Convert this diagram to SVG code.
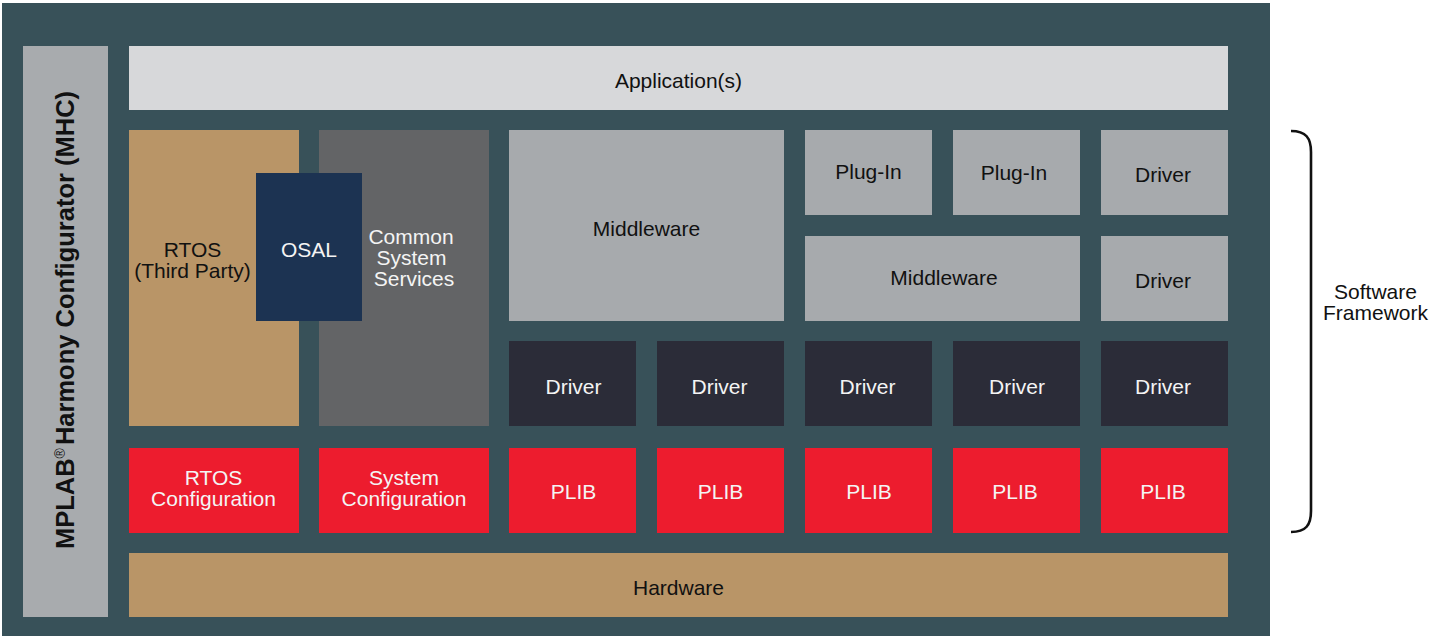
<svg xmlns="http://www.w3.org/2000/svg" width="1429" height="636" viewBox="0 0 1429 636">
<style>
text{font-family:"Liberation Sans",Arial,sans-serif;font-size:21px;text-anchor:middle}
.dk{fill:#111}
.wt{fill:#f4f4f4}
.bg{fill:#385159}
.mhc{fill:#a8abae}
.app{fill:#d7d8da}
.tan{fill:#b99567}
.osal{fill:#1c3352}
.css{fill:#636466}
.gray{fill:#a7aaad}
.drv{fill:#2b2c38}
.red{fill:#ed1c2e}
</style>
<rect width="1429" height="636" fill="#ffffff"/>
<rect class="bg" x="2" y="3" width="1268" height="633"/>
<g id="mhc">
<rect class="mhc" x="23" y="46" width="85" height="571"/>
<text class="dk" transform="translate(74,320) rotate(-90)" style="font-weight:bold;font-size:25.5px">MPLAB<tspan style="font-size:14px;font-weight:normal" dy="-9">®</tspan><tspan dy="9" dx="3">Harmony Configurator (MHC)</tspan></text>
</g>
<g id="application">
<rect class="app" x="129" y="46" width="1099" height="64"/>
<text class="dk" x="678.5" y="88">Application(s)</text>
</g>
<g id="rtos">
<rect class="tan" x="129" y="130" width="170" height="296"/>
<text class="dk" x="192.5" y="257">RTOS</text>
<text class="dk" x="192.5" y="278">(Third Party)</text>
</g>
<g id="css">
<rect class="css" x="319" y="130" width="170" height="296"/>
<text class="wt" x="411" y="244">Common</text>
<text class="wt" x="411.5" y="265">System</text>
<text class="wt" x="414" y="286">Services</text>
</g>
<g id="osal">
<rect class="osal" x="256" y="173" width="106" height="148"/>
<text class="wt" x="309" y="257">OSAL</text>
</g>
<g id="middleware1">
<rect class="gray" x="509" y="130" width="275" height="191"/>
<text class="dk" x="646.5" y="236">Middleware</text>
</g>
<g id="plugin1">
<rect class="gray" x="805" y="130" width="127" height="85"/>
<text class="dk" x="868.5" y="179">Plug-In</text>
</g>
<g id="plugin2">
<rect class="gray" x="953" y="130" width="127" height="85"/>
<text class="dk" x="1014" y="180">Plug-In</text>
</g>
<g id="driver-top1">
<rect class="gray" x="1101" y="130" width="127" height="85"/>
<text class="dk" x="1163" y="182">Driver</text>
</g>
<g id="middleware2">
<rect class="gray" x="805" y="236" width="275" height="85"/>
<text class="dk" x="944" y="285">Middleware</text>
</g>
<g id="driver-top2">
<rect class="gray" x="1101" y="236" width="127" height="85"/>
<text class="dk" x="1163" y="288">Driver</text>
</g>
<g id="driver1">
<rect class="drv" x="509" y="341" width="127" height="85"/>
<text class="wt" x="573.5" y="394">Driver</text>
</g>
<g id="driver2">
<rect class="drv" x="657" y="341" width="127" height="85"/>
<text class="wt" x="719.5" y="394">Driver</text>
</g>
<g id="driver3">
<rect class="drv" x="805" y="341" width="127" height="85"/>
<text class="wt" x="867.5" y="394">Driver</text>
</g>
<g id="driver4">
<rect class="drv" x="953" y="341" width="127" height="85"/>
<text class="wt" x="1017" y="394">Driver</text>
</g>
<g id="driver5">
<rect class="drv" x="1101" y="341" width="127" height="85"/>
<text class="wt" x="1163" y="394">Driver</text>
</g>
<g id="rtos-config">
<rect class="red" x="129" y="448" width="170" height="85"/>
<text class="wt" x="213.5" y="485">RTOS</text>
<text class="wt" x="213.5" y="506">Configuration</text>
</g>
<g id="system-config">
<rect class="red" x="319" y="448" width="170" height="85"/>
<text class="wt" x="404" y="485">System</text>
<text class="wt" x="404" y="506">Configuration</text>
</g>
<g id="plib1">
<rect class="red" x="509" y="448" width="127" height="85"/>
<text class="wt" x="573.5" y="499">PLIB</text>
</g>
<g id="plib2">
<rect class="red" x="657" y="448" width="127" height="85"/>
<text class="wt" x="720.5" y="499">PLIB</text>
</g>
<g id="plib3">
<rect class="red" x="805" y="448" width="127" height="85"/>
<text class="wt" x="869" y="499">PLIB</text>
</g>
<g id="plib4">
<rect class="red" x="953" y="448" width="127" height="85"/>
<text class="wt" x="1015" y="499">PLIB</text>
</g>
<g id="plib5">
<rect class="red" x="1101" y="448" width="127" height="85"/>
<text class="wt" x="1163" y="499">PLIB</text>
</g>
<g id="hardware">
<rect class="tan" x="129" y="553" width="1099" height="64"/>
<text class="dk" x="678.5" y="595">Hardware</text>
</g>
<g id="connectors">
<path d="M1291,131 C1306,131 1311,138 1311,152 L1311,511 C1311,525 1306,532 1291,532" fill="none" stroke="#111" stroke-width="2.6"/>
</g>
<g id="software-framework">
<text class="dk" x="1375.5" y="299">Software</text>
<text class="dk" x="1375.5" y="320">Framework</text>
</g>
</svg>
